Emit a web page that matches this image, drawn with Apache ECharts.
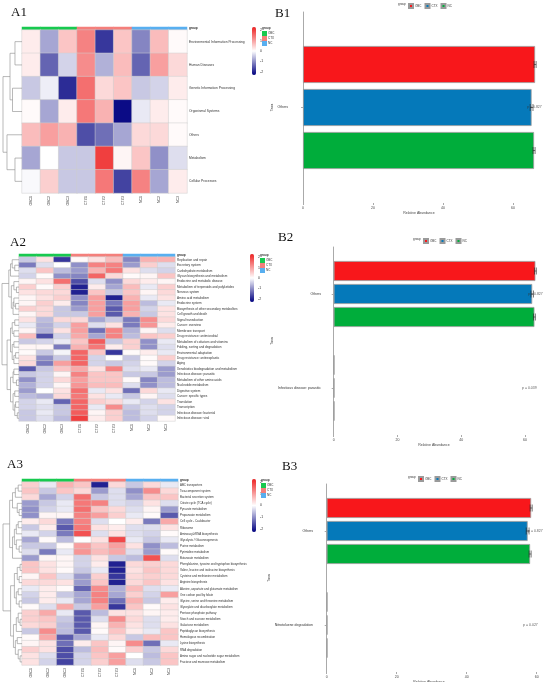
<!DOCTYPE html>
<html>
<head>
<meta charset="utf-8">
<script src="https://cdn.jsdelivr.net/npm/echarts@6/dist/echarts.min.js"></script>
<style>
html,body{margin:0;padding:0;background:#fff;}
#main{width:550px;height:682px;}
</style>
</head>
<body>
<div id="main"></div>
<script>
// samples & groups shared by all heatmaps
var samples = ['OBC1','OBC2','OBC3','CTX1','CTX2','CTX3','NC1','NC2','NC3'];
var sampleGroup = [0,0,0,1,1,1,2,2,2];
var groupNames = ['OBC','CTX','NC'];
var groupColors = ['#17c94f','#f47f7b','#58aff0'];
var colorTicks = [-2,-1,0,1,2];

// A1 - level 1 pathways
var a1Rows = ['Environmental Information Processing','Human Diseases','Genetic Information Processing','Organismal Systems','Others','Metabolism','Cellular Processes'];
var a1Values = [
  [0.2,-0.8,0.6,1.3,-1.8,0.6,-1.1,0.7,0.05],
  [0.2,-1.4,-0.4,1.2,-0.7,0.7,-1.4,1.0,0.4],
  [-0.5,-0.15,-1.9,1.5,0.4,0.6,-0.5,-0.4,0.2],
  [0.05,-0.8,0.2,1.4,0.8,-2.2,-0.2,0.2,0.05],
  [0.7,1.0,0.8,-1.6,-1.3,-0.8,0.4,0.4,0.05],
  [-0.8,0,-0.5,-0.5,2.0,0.1,0.6,-1.0,-0.3],
  [-0.05,0.5,-0.5,-0.5,1.4,-1.7,1.3,-0.8,0.2]
];
// merges: [a, b, height]; negative = row number, positive = earlier merge
var a1Tree = [[-1,-2,0.37],[-3,-4,0.5],[1,2,0.63],[-6,-7,0.37],[-5,4,0.79],[3,5,1.0]];

// A2 - level 2 pathways
var a2Rows = ['Replication and repair','Excretory system','Carbohydrate metabolism','Glycan biosynthesis and metabolism','Endocrine and metabolic disease','Metabolism of terpenoids and polyketides','Nervous system','Amino acid metabolism','Endocrine system','Biosynthesis of other secondary metabolites','Cell growth and death','Signal transduction','Cancer: overview','Membrane transport','Drug resistance: antimicrobial','Metabolism of cofactors and vitamins','Folding, sorting and degradation','Environmental adaptation','Drug resistance: antineoplastic','Aging','Xenobiotics biodegradation and metabolism','Infectious disease: parasitic','Metabolism of other amino acids','Nucleotide metabolism','Digestive system','Cancer: specific types','Translation','Transcription','Infectious disease: bacterial','Infectious disease: viral'];
var a2Values = [
  [-0.5,0.3,-1.8,0.05,0.3,0.7,-1.1,0.8,0.8],
  [-1.2,-0.3,0,-1.0,1.3,1.3,-0.9,0.5,-0.3],
  [-0.3,0.6,-0.6,-0.9,0.8,1.4,0.3,-0.3,-0.4],
  [-0.4,0.05,-1.0,-1.1,1.6,0.4,0.05,0.1,0.6],
  [0.1,0.3,1.5,-1.6,-0.3,-1.0,0.4,0.2,0.1],
  [0.5,0.05,0.5,-2.0,0.2,-0.8,0.7,-0.2,0.5],
  [0.3,0.4,0.4,-2.0,0.6,-0.5,0.6,0.1,0.4],
  [0.1,0.3,0.5,-1.0,1.0,-2.0,0.8,-0.2,0.3],
  [0.1,0.5,0.2,-1.1,1.0,-1.2,1.0,-0.6,-0.2],
  [0.5,0.4,-0.5,-0.9,1.0,-1.5,1.0,-0.4,0.3],
  [0.1,0.4,-0.5,-0.5,1.0,-1.5,0.8,-0.5,0.3],
  [0.3,-0.6,0.4,0.4,-0.8,-0.5,-1.2,1.2,0.4],
  [-0.2,-0.7,-0.4,1.0,-0.3,0.3,-1.2,1.1,0.2],
  [0.1,-0.7,0.3,1.0,-1.3,1.3,-0.7,0.1,-0.3],
  [0.7,-1.6,-0.4,0.9,-0.8,1.3,-0.6,0.6,0.5],
  [-0.5,-0.4,-0.2,0.6,1.7,-0.5,0.5,-1.0,-0.2],
  [0.1,0.1,-1.2,0.8,1.4,0.2,0.5,-1.0,-0.3],
  [0.05,-0.5,-0.1,1.6,0.6,-1.8,0.05,0.2,-0.2],
  [0.3,-1.0,-0.5,1.6,-0.4,0,-0.5,0.05,0.5],
  [0.4,-1.2,1.0,1.6,-0.4,-0.5,-0.4,0.05,-0.4],
  [-1.5,-0.5,0.6,0.9,0.3,1.3,-0.3,-0.2,-0.9],
  [-0.5,-0.4,0.1,1.3,0.6,0.6,-0.5,-0.5,-0.9],
  [-1.0,-0.4,0.4,1.0,0.6,0.6,0.05,-1.1,-0.6],
  [-0.7,-0.4,0.1,1.1,0.7,0.7,-0.3,-1.0,-0.6],
  [-0.9,0,0.3,1.5,-0.2,0.3,-1.3,0.4,-0.2],
  [-0.6,-0.7,0.4,1.4,0.3,-0.2,-0.5,0.1,-0.3],
  [-0.4,-0.2,-1.4,1.6,0.5,0.4,-0.2,-0.4,0.3],
  [-0.4,-0.3,-0.5,1.6,-0.2,1.2,-0.5,-0.3,-0.4],
  [-0.5,-0.2,-0.5,1.7,0.1,0.5,-0.6,-0.3,-0.4],
  [-0.5,-0.3,-0.6,2.0,0.2,0.5,-0.6,-0.4,0.05]
];
var a2Tree = [[-2,-3,0.25],[-1,1,0.4],[-4,2,0.5],[-6,-7,0.15],[-5,4,0.3],[-9,-10,0.2],[-8,6,0.3],[-11,7,0.35],[5,8,0.45],[3,9,0.6],
  [-12,-13,0.25],[-14,-15,0.3],[11,12,0.4],[-16,-17,0.3],[-18,-19,0.2],[-20,15,0.3],[14,16,0.4],[13,17,0.5],
  [-21,-22,0.3],[-23,-24,0.15],[19,20,0.35],[-25,-26,0.25],[-27,-28,0.2],[-29,-30,0.1],[23,24,0.25],[22,25,0.35],[21,26,0.5],
  [18,27,0.7],[10,28,1.0]];

// A3 - level 3 pathways
var a3Rows = ['ABC transporters','Two-component system','Bacterial secretion system','Citrate cycle (TCA cycle)','Pyruvate metabolism','Propanoate metabolism','Cell cycle - Caulobacter','Ribosome','Aminoacyl-tRNA biosynthesis','Glycolysis / Gluconeogenesis','Purine metabolism','Pyrimidine metabolism','Butanoate metabolism','Phenylalanine, tyrosine and tryptophan biosynthesis','Valine, leucine and isoleucine biosynthesis','Cysteine and methionine metabolism','Arginine biosynthesis','Alanine, aspartate and glutamate metabolism','One carbon pool by folate','Glycine, serine and threonine metabolism','Glyoxylate and dicarboxylate metabolism','Pentose phosphate pathway','Starch and sucrose metabolism','Galactose metabolism','Peptidoglycan biosynthesis','Homologous recombination','Lysine biosynthesis','RNA degradation','Amino sugar and nucleotide sugar metabolism','Fructose and mannose metabolism'];
var a3Values = [
  [0.5,-0.2,0.8,0.6,-2.0,0.4,-0.5,0.4,-0.2],
  [0.6,-0.5,0.6,0.4,-0.9,-0.3,-1.0,1.2,0.4],
  [0.4,-0.8,-0.4,1.5,-0.5,-0.3,-0.8,0.6,0.6],
  [-0.9,-0.5,-0.2,1.4,1.3,-0.3,-0.4,0.3,-0.3],
  [-1.0,-0.4,-0.2,1.5,0.6,0.4,-0.3,0.1,-0.9],
  [-1.0,0.1,0.1,1.3,1.0,0.5,-0.2,0.05,-1.5],
  [0.2,0.4,-1.2,1.3,-0.3,0,0.2,-1.2,0.9],
  [-0.5,0.2,-1.5,1.4,0.3,0.2,-0.3,-0.3,0.3],
  [-0.2,-0.4,-1.2,1.8,-0.3,0.3,-0.3,-0.4,0.05],
  [-0.8,0.05,-0.6,0,0.3,1.9,-0.2,-0.5,-0.2],
  [-0.5,-0.5,0.05,1.0,0.6,1.0,0.3,-1.0,-0.6],
  [-0.3,-1.2,-0.2,1.1,0.7,0.9,-0.3,-0.9,0.05],
  [-0.9,0.1,0.1,-0.4,0.3,-0.5,-0.6,1.8,-0.3],
  [0.6,0.3,0.1,-0.4,0.2,-2.0,0.4,0.5,0.4],
  [0.6,0.3,0.05,-0.5,-0.2,-2.0,0.3,0.6,0.4],
  [0.1,0.6,-0.3,-0.9,0.5,-1.8,0.4,0.5,0.4],
  [0.4,0.4,0.3,-0.9,0.6,-2.0,0.4,0.6,0.3],
  [-0.2,0.2,0.05,-1.4,1.2,-0.7,0.7,-0.3,-0.2],
  [-0.4,0.2,-0.5,-0.8,1.3,-0.8,0.5,-0.4,1.0],
  [-0.5,0.2,-0.2,-0.8,1.3,-1.3,0.8,-0.5,0.2],
  [0.05,-0.3,0.9,-0.5,1.0,-1.8,0.6,0.05,0.3],
  [0.5,0.9,-0.2,-1.5,-0.6,0.3,0.3,0.1,0.2],
  [0.5,0.6,-0.5,-1.5,-0.3,1.2,0.4,-0.3,0.2],
  [0.4,0.5,-0.6,-1.5,0.1,0.8,0.3,-0.3,0.3],
  [-0.5,1.2,-0.6,-1.5,0.05,0.6,0.2,-0.2,0.6],
  [0.05,0.9,-1.5,-0.8,-0.2,0.4,-0.5,0.7,0.6],
  [0.1,0.3,-1.3,0.2,0.6,0.1,1.2,-1.3,-0.2],
  [0.5,0.3,-1.6,-0.6,0.7,0.05,0.5,-0.5,0.4],
  [0.3,-0.3,-1.6,-0.4,0.6,1.0,0,-0.6,0.6],
  [0.3,-0.4,-1.7,-0.4,0.5,1.0,-0.3,-0.5,0.6]
];
var a3Tree = [[-1,-2,0.2],[-3,1,0.35],[-5,-6,0.15],[-4,3,0.25],[2,4,0.5],[-7,-8,0.2],[-9,6,0.3],[-11,-12,0.15],[-10,8,0.3],[7,9,0.4],[-13,10,0.5],[5,11,0.65],
  [-14,-15,0.1],[-16,-17,0.15],[13,14,0.25],[-18,-19,0.2],[-20,-21,0.15],[16,17,0.3],[15,18,0.4],
  [-23,-24,0.1],[-22,20,0.2],[-25,21,0.3],[-26,-27,0.25],[-29,-30,0.1],[-28,24,0.2],[23,25,0.35],[22,26,0.45],
  [19,27,0.6],[12,28,1.0]];

// B panels - relative abundance (%)
var barGroups = ['OBC','CTX','NC'];
var barColors = ['#f8171b','#0579ba','#00ad3b'];
var xTicks = [0,20,40,60];

var b1Taxa = ['Others'];
var b1OBC = [66.3], b1CTX = [65.3], b1NC = [66.0];
var b1ErrOBC = [0.3], b1ErrCTX = [0.4], b1ErrNC = [0.3];
var b1PTaxa = ['Others'], b1PX = [64.0], b1PText = ['p = 0.827'];

var b2Taxa = ['Others','Infectious disease: parasitic'];
var b2OBC = [63.3,0.2], b2CTX = [62.3,0.2], b2NC = [63.0,0.2];
var b2ErrOBC = [0.3,0], b2ErrCTX = [0.4,0], b2ErrNC = [0.3,0];
var b2PTaxa = ['Others','Infectious disease: parasitic'], b2PX = [61.0,59.1], b2PText = ['p = 0.827','p = 0.039'];

var b3Taxa = ['Others','Nitrotoluene degradation'];
var b3OBC = [58.4,0.2], b3CTX = [57.4,0.2], b3NC = [58.1,0.2];
var b3ErrOBC = [0.3,0], b3ErrCTX = [0.4,0], b3ErrNC = [0.3,0];
var b3PTaxa = ['Others','Nitrotoluene degradation'], b3PX = [57.5,56.1], b3PText = ['p = 0.827','p = 0.027'];

var SANS = 'Liberation Sans';
var option = {
  animation: false,
  backgroundColor: '#fff',
  title: [], grid: [], xAxis: [], yAxis: [], visualMap: [], legend: [], series: []
};

function addGrid(box) {
  var g = {left: box.left, top: box.top, width: box.width, height: box.height, outerBoundsMode: 'none', containLabel: false};
  option.grid.push(g);
  return option.grid.length - 1;
}

function addText(txt, left, top, size, serif, bold) {
  option.title.push({
    text: txt, left: left, top: top, padding: 0,
    textStyle: {fontSize: size, fontFamily: serif ? 'Liberation Serif' : SANS, fontWeight: bold ? 'bold' : 'normal', color: serif ? '#111' : '#333'}
  });
}

// turn merge list into polyline segments (x = height, y = row)
function dendroLines(tree) {
  var pos = [], hgt = [], segs = [];
  function node(ref) { return ref < 0 ? [-ref, 0] : [pos[ref - 1], hgt[ref - 1]]; }
  tree.forEach(function (m) {
    var a = node(m[0]), b = node(m[1]), h = m[2];
    segs.push({coords: [[a[1], a[0]], [h, a[0]], [h, b[0]], [b[1], b[0]]]});
    pos.push((a[0] + b[0]) / 2);
    hgt.push(h);
  });
  return segs;
}

function heatPanel(rows, values, tree, L) {
  var n = rows.length;
  // group colour strip
  var gi = addGrid({left: L.left, top: L.top - 3, width: L.width, height: 3});
  option.xAxis.push({gridIndex: gi, type: 'category', data: samples, show: false});
  option.yAxis.push({gridIndex: gi, type: 'category', data: ['group'], position: 'right',
    axisLine: {show: false}, axisTick: {show: false},
    axisLabel: {fontSize: 3, fontWeight: 'bold', color: '#222', margin: 2, fontFamily: SANS}});
  var gData = sampleGroup.map(function (g, i) { return [i, 0, g]; });
  option.series.push({type: 'heatmap', xAxisIndex: gi, yAxisIndex: gi, data: gData, itemStyle: {borderWidth: 0}, emphasis: {disabled: true}});
  option.visualMap.push({
    type: 'piecewise', seriesIndex: option.series.length - 1, dimension: 2, inverse: true,
    pieces: groupNames.map(function (g, i) { return {value: i, label: g, color: groupColors[i]}; }),
    left: L.legLeft, top: L.top + 1, itemWidth: 5, itemHeight: 5, itemGap: 0, textGap: 1,
    orient: 'vertical', padding: 0, selectedMode: false, itemSymbol: 'rect',
    textStyle: {fontSize: 3, color: '#333', fontFamily: SANS}
  });
  addText('group', L.legLeft, L.top - 3, 3, false, true);

  // heatmap body
  var hi = addGrid({left: L.left, top: L.top, width: L.width, height: L.height});
  option.xAxis.push({gridIndex: hi, type: 'category', data: samples,
    axisLine: {show: false}, axisTick: {show: false},
    axisLabel: {interval: 0, rotate: 90, fontSize: 3.5, color: '#444', margin: 3, fontFamily: SANS}});
  option.yAxis.push({gridIndex: hi, type: 'category', data: rows, inverse: true, position: 'right',
    axisLine: {show: false}, axisTick: {show: false},
    axisLabel: {interval: 0, fontSize: L.font, color: '#333', margin: 2, fontFamily: SANS}});
  var hData = [];
  values.forEach(function (row, r) { row.forEach(function (v, c) { hData.push([c, r, v]); }); });
  option.series.push({type: 'heatmap', xAxisIndex: hi, yAxisIndex: hi, data: hData,
    itemStyle: {borderColor: '#cfcfcf', borderWidth: 0.5}, emphasis: {disabled: true}});
  option.visualMap.push({
    type: 'continuous', seriesIndex: option.series.length - 1, dimension: 2,
    min: -2.3, max: 2.3, inRange: {color: ['#000080', '#ffffff', '#ee2222']},
    left: L.barLeft, top: L.top - 3, itemWidth: 4, itemHeight: L.barLen,
    calculable: false, hoverLink: false, padding: 0, orient: 'vertical', text: null
  });

  // colour bar tick labels
  var ci = addGrid({left: L.barLeft, top: L.top - 3, width: 4, height: L.barLen});
  option.xAxis.push({gridIndex: ci, type: 'category', data: [''], show: false});
  option.yAxis.push({gridIndex: ci, type: 'value', min: -2.3, max: 2.3, position: 'right',
    axisLine: {show: false}, splitLine: {show: false},
    axisTick: {show: true, length: 1.5, lineStyle: {color: '#fff', width: 0.5}, customValues: colorTicks},
    axisLabel: {fontSize: 3.5, color: '#333', margin: 4, customValues: colorTicks, fontFamily: SANS}});

  // row dendrogram
  var di = addGrid({left: L.dLeft, top: L.top, width: L.left - L.dLeft, height: L.height});
  option.xAxis.push({gridIndex: di, type: 'value', min: 0, max: 1, inverse: true, show: false});
  option.yAxis.push({gridIndex: di, type: 'value', min: 0.5, max: n + 0.5, inverse: true, show: false});
  option.series.push({type: 'lines', coordinateSystem: 'cartesian2d', xAxisIndex: di, yAxisIndex: di,
    polyline: true, data: dendroLines(tree), lineStyle: {color: '#8a8a8a', width: 0.6, opacity: 1}, silent: true});
}

function errRender(slot, barW, gap) {
  return function (params, api) {
    var v = api.value(0), cat = api.value(1), e = api.value(2);
    if (!e) return null;
    var y = api.coord([v, cat])[1] + slot * (barW + gap);
    var x1 = api.coord([v - e, cat])[0], x2 = api.coord([v + e, cat])[0];
    var st = {stroke: '#222', lineWidth: 0.6};
    return {type: 'group', children: [
      {type: 'line', shape: {x1: x1, y1: y, x2: x2, y2: y}, style: st},
      {type: 'line', shape: {x1: x1, y1: y - 3.5, x2: x1, y2: y + 3.5}, style: st},
      {type: 'line', shape: {x1: x2, y1: y - 3.5, x2: x2, y2: y + 3.5}, style: st}
    ]};
  };
}

function barPanel(taxa, vals, errs, pTaxa, pX, pText, L) {
  var gi = addGrid({left: L.left, top: L.top, width: L.width, height: L.height});
  option.xAxis.push({gridIndex: gi, type: 'value', min: L.xMin, max: L.xMax,
    name: 'Relative Abundance', nameLocation: 'middle', nameGap: 8,
    nameTextStyle: {fontSize: 3.5, color: '#444', fontFamily: SANS},
    axisLine: {lineStyle: {color: '#aaa', width: 1}},
    axisTick: {show: true, length: 2, lineStyle: {color: '#aaa'}, customValues: xTicks},
    axisLabel: {fontSize: 3.5, color: '#444', margin: 3, customValues: xTicks, fontFamily: SANS},
    splitLine: {show: false}});
  option.yAxis.push({gridIndex: gi, type: 'category', data: taxa, inverse: true,
    name: 'Taxa', nameLocation: 'middle', nameGap: L.nameGap, nameRotate: 90,
    nameTextStyle: {fontSize: 3.5, color: '#444', fontFamily: SANS},
    axisLine: {lineStyle: {color: '#aaa', width: 1}},
    axisTick: {show: true, length: 2, alignWithLabel: true, lineStyle: {color: '#aaa'}},
    axisLabel: {interval: 0, fontSize: 3.5, color: '#333', margin: 3, fontFamily: SANS},
    splitLine: {show: false}});
  var gapFrac = L.gap / L.barW;
  barGroups.forEach(function (g, k) {
    option.series.push({type: 'bar', name: g, xAxisIndex: gi, yAxisIndex: gi, data: vals[k],
      barWidth: L.barW, barGap: (gapFrac * 100) + '%',
      itemStyle: {color: barColors[k], borderColor: '#9a9a9a', borderWidth: 0.8}, emphasis: {disabled: true}});
  });
  barGroups.forEach(function (g, k) {
    option.series.push({type: 'custom', xAxisIndex: gi, yAxisIndex: gi,
      data: vals[k].map(function (v, i) { return [v, i, errs[k][i]]; }),
      renderItem: errRender(k - 1, L.barW, L.gap), silent: true, z: 5});
  });
  option.series.push({type: 'scatter', xAxisIndex: gi, yAxisIndex: gi, symbolSize: 0, silent: true,
    data: pX.map(function (x, i) { return [x, taxa.indexOf(pTaxa[i]), pText[i]]; }),
    label: {show: true, position: 'right', distance: 0, fontSize: 3.5, color: '#333', fontFamily: SANS,
      formatter: function (p) { return p.value[2]; }}, z: 6});
  option.legend.push({data: barGroups, left: L.legLeft, top: L.legTop, itemWidth: 4, itemHeight: 4, itemGap: 3,
    icon: 'rect', padding: 0, selectedMode: false, textStyle: {fontSize: 3, color: '#333', padding: [0, 0, 0, -3], fontFamily: SANS}});
  addText('group', L.legLeft - 10, L.legTop, 3, false, false);
}

// A panels
heatPanel(a1Rows, a1Values, a1Tree, {left: 22, top: 30, width: 165, height: 163, dLeft: 3, font: 3.3, barLeft: 252, barLen: 48, legLeft: 262});
heatPanel(a2Rows, a2Values, a2Tree, {left: 19, top: 257, width: 156, height: 164, dLeft: 2, font: 3.1, barLeft: 250, barLen: 48, legLeft: 260});
heatPanel(a3Rows, a3Values, a3Tree, {left: 22, top: 482, width: 156, height: 183, dLeft: 3, font: 2.9, barLeft: 252, barLen: 53, legLeft: 261});

// B panels
barPanel(b1Taxa, [b1OBC, b1CTX, b1NC], [b1ErrOBC, b1ErrCTX, b1ErrNC], b1PTaxa, b1PX, b1PText,
  {left: 291, top: 12, width: 256, height: 191, xMin: -3.43, xMax: 69.7, barW: 37, gap: 6, nameGap: 12, legLeft: 408, legTop: 3});
barPanel(b2Taxa, [b2OBC, b2CTX, b2NC], [b2ErrOBC, b2ErrCTX, b2ErrNC], b2PTaxa, b2PX, b2PText,
  {left: 324, top: 247, width: 220, height: 188, xMin: -3.05, xMax: 66.0, barW: 20, gap: 3, nameGap: 42, legLeft: 423, legTop: 238});
barPanel(b3Taxa, [b3OBC, b3CTX, b3NC], [b3ErrOBC, b3ErrCTX, b3ErrNC], b3PTaxa, b3PX, b3PText,
  {left: 316, top: 484, width: 226, height: 188, xMin: -3.06, xMax: 61.5, barW: 20, gap: 3, nameGap: 34, legLeft: 418, legTop: 476});

addText('A1', 11, 6, 13, true);
addText('A2', 10, 236, 13, true);
addText('A3', 7, 458, 13, true);
addText('B1', 275, 7, 13, true);
addText('B2', 278, 231, 13, true);
addText('B3', 282, 460, 13, true);

var chart = echarts.init(document.getElementById('main'));
chart.setOption(option);
</script>
</body>
</html>
